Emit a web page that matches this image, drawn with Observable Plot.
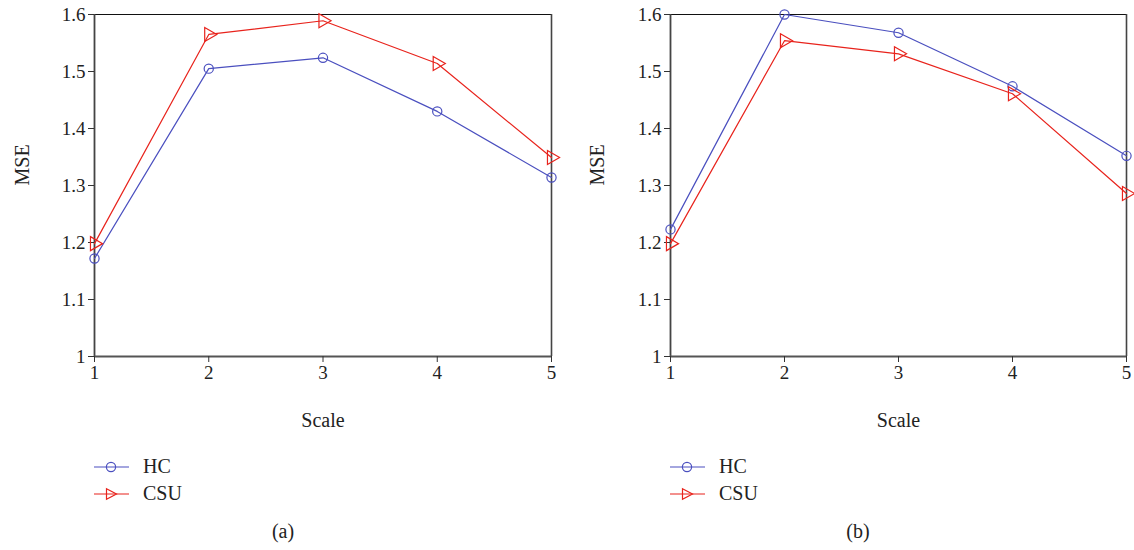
<!DOCTYPE html>
<html>
<head>
<meta charset="utf-8">
<script src="https://cdn.jsdelivr.net/npm/d3@7"></script>
<script src="https://cdn.jsdelivr.net/npm/@observablehq/plot@0.6"></script>
<style>
  body { margin: 0; background: #fff; font-family: "Liberation Serif", "DejaVu Serif", serif; }
  #wrap { position: relative; width: 1134px; height: 550px; }
  .panel { position: absolute; top: 0; }
  .panel svg text { font-family: "Liberation Serif", "DejaVu Serif", serif; }
  .leg { position: absolute; display: flex; align-items: center; font-size: 20px; color: #222; }
  .cap { position: absolute; font-size: 20px; color: #222; transform: translateX(-50%); }
</style>
</head>
<body>
<div id="wrap"></div>
<script>
const scales = [1, 2, 3, 4, 5];
const yTicks = [1, 1.1, 1.2, 1.3, 1.4, 1.5, 1.6];
const seriesNames = ["HC", "CSU"];
const hcA  = [1.172, 1.505, 1.524, 1.430, 1.314];
const csuA = [1.198, 1.565, 1.589, 1.514, 1.349];
const hcB  = [1.223, 1.600, 1.568, 1.474, 1.352];
const csuB = [1.198, 1.554, 1.531, 1.461, 1.286];
const captions = ["(a)", "(b)"];

const BLUE = "#4a4fbf";
const RED = "#e8231c";
const FONT = "'Liberation Serif', 'DejaVu Serif', serif";
const fmtY = d => d === 1 ? "1" : d.toFixed(1);

function rows(hc, csu) {
  const out = [];
  scales.forEach((s, i) => {
    out.push({scale: s, mse: hc[i], series: "HC"});
    out.push({scale: s, mse: csu[i], series: "CSU"});
  });
  return out;
}

function makePanel(data, ml, mr, mseDx) {
  const hc = data.filter(d => d.series === "HC");
  const csu = data.filter(d => d.series === "CSU");
  return Plot.plot({
    width: 567,
    height: 445,
    marginLeft: ml,
    marginRight: mr,
    marginTop: 14,
    marginBottom: 89,
    style: {fontFamily: FONT, fontSize: "19px", color: "#222", background: "#fff", overflow: "visible"},
    x: {domain: [1, 5]},
    y: {domain: [1, 1.6]},
    marks: [
      Plot.ruleY([1.6], {stroke: "#111", strokeWidth: 1.2}),
      Plot.ruleX([5], {stroke: "#444", strokeWidth: 1.6}),
      Plot.ruleX([1], {stroke: "#444", strokeWidth: 1.8}),
      Plot.ruleY([1], {stroke: "#555", strokeWidth: 2}),
      Plot.axisX({ticks: scales, tickSize: 6, tickFormat: () => "", label: null, stroke: "#333"}),
      Plot.axisY({ticks: yTicks, tickSize: 6, tickFormat: () => "", label: null, stroke: "#333"}),
      Plot.text(scales, {x: d => d, text: d => String(d), frameAnchor: "bottom", dy: 22, fontSize: 19, fill: "#222"}),
      Plot.text(yTicks, {y: d => d, text: fmtY, frameAnchor: "left", dx: -9, textAnchor: "end", fontSize: 19, fill: "#222"}),
      Plot.line(hc, {x: "scale", y: "mse", stroke: BLUE, strokeWidth: 1.2}),
      Plot.line(csu, {x: "scale", y: "mse", stroke: RED, strokeWidth: 1.2}),
      Plot.dot(hc, {x: "scale", y: "mse", r: 4.6, stroke: BLUE, strokeWidth: 1.2, fill: "white", fillOpacity: 0}),
      Plot.dot(csu, {x: "scale", y: "mse", symbol: "triangle", r: 5.2, rotate: 90, stroke: RED, strokeWidth: 1.2, fill: "none"}),
      Plot.text(["Scale"], {frameAnchor: "bottom", dy: 70, fontSize: 20, fill: "#222"}),
      Plot.text(["MSE"], {frameAnchor: "left", dx: mseDx, rotate: -90, fontSize: 20, fill: "#222"})
    ]
  });
}

const wrap = document.getElementById("wrap");
const panels = [
  {data: rows(hcA, csuA), left: 0, ml: 94, mr: 16, mseDx: -72, legX: 94, capX: 283},
  {data: rows(hcB, csuB), left: 567, ml: 103, mr: 8, mseDx: -73, legX: 670, capX: 858}
];

function legendSymbol(color, kind) {
  const sym = kind === "HC"
    ? `<circle cx="17" cy="7" r="4.6" fill="none" stroke="${color}" stroke-width="1.2"/>`
    : `<path d="M12.5,1.8 L22.5,7 L12.5,12.2 Z" fill="none" stroke="${color}" stroke-width="1.2"/>`;
  return `<svg width="35" height="14" style="overflow:visible"><line x1="0" y1="7" x2="35" y2="7" stroke="${color}" stroke-width="1.2"/>${sym}</svg>`;
}

panels.forEach((p, idx) => {
  const div = document.createElement("div");
  div.className = "panel";
  div.style.left = p.left + "px";
  div.appendChild(makePanel(p.data, p.ml, p.mr, p.mseDx));
  wrap.appendChild(div);

  seriesNames.forEach((name, j) => {
    const l = document.createElement("div");
    l.className = "leg";
    l.style.left = p.legX + "px";
    l.style.top = (455 + j * 27) + "px";
    l.innerHTML = legendSymbol(name === "HC" ? BLUE : RED, name) + `<span style="margin-left:14px">${name}</span>`;
    wrap.appendChild(l);
  });

  const c = document.createElement("div");
  c.className = "cap";
  c.style.left = p.capX + "px";
  c.style.top = "520px";
  c.textContent = captions[idx];
  wrap.appendChild(c);
});
</script>
</body>
</html>
